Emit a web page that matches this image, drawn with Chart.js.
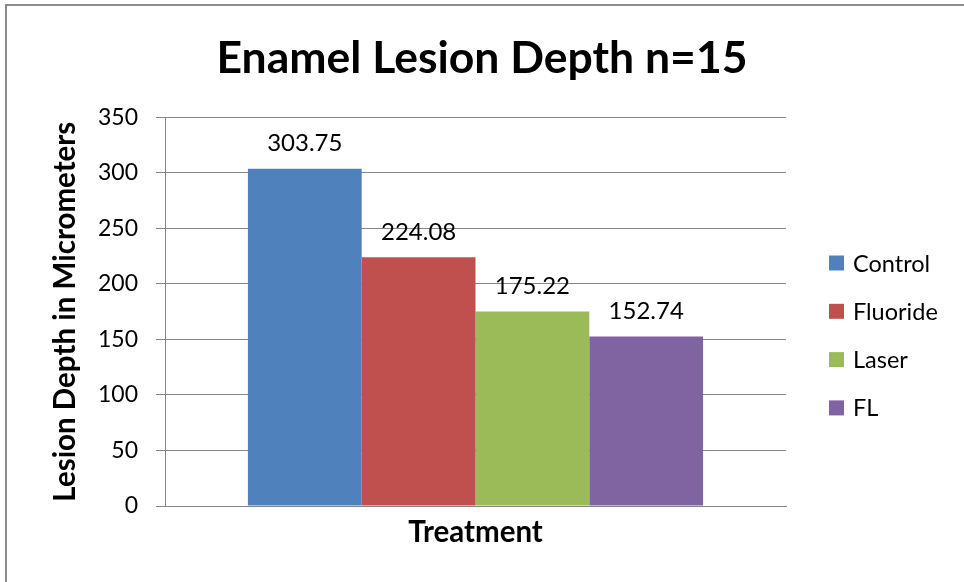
<!DOCTYPE html>
<html>
<head>
<meta charset="utf-8">
<script src="https://cdn.jsdelivr.net/npm/chart.js@4.4.1/dist/chart.umd.min.js"></script>
<style>
  html, body { margin: 0; padding: 0; background: #fff; }
  #wrap { width: 964px; height: 582px; position: relative; }
</style>
</head>
<body>
<div id="wrap"><canvas id="myChart" width="964" height="582"></canvas></div>
<script>
const categories = [''];
const seriesNames = ['Control', 'Fluoride', 'Laser', 'FL'];
const seriesValues = [303.75, 224.08, 175.22, 152.74];
const seriesColors = ['#4F81BD', '#C0504D', '#9BBB59', '#8064A2'];
const yTicks = [0, 50, 100, 150, 200, 250, 300, 350];

const FONT = 'Lato, "Open Sans", sans-serif';
const GRID = '#868686';

// frame round the chart (only top and left show in the picture)
const framePlugin = {
  id: 'frame',
  beforeDraw(chart) {
    const ctx = chart.ctx;
    ctx.save();
    ctx.fillStyle = '#fff';
    ctx.fillRect(0, 0, chart.width, chart.height);
    ctx.fillStyle = '#8c8c8c';
    ctx.fillRect(5, 4, 2, chart.height - 4);
    ctx.fillRect(5, 4, chart.width - 5, 2);
    ctx.restore();
  }
};

// value labels above the bars
const valueLabels = {
  id: 'valueLabels',
  afterDatasetsDraw(chart) {
    const ctx = chart.ctx;
    ctx.save();
    ctx.font = '24px ' + FONT;
    ctx.fillStyle = '#000';
    ctx.textAlign = 'center';
    ctx.textBaseline = 'middle';
    chart.data.datasets.forEach((ds, i) => {
      chart.getDatasetMeta(i).data.forEach((bar, j) => {
        ctx.fillText(ds.data[j].toFixed(2), bar.x, bar.y - 25);
      });
    });
    ctx.restore();
  }
};

// legend on the right, Excel style
const sideLegend = {
  id: 'sideLegend',
  afterDraw(chart) {
    const ctx = chart.ctx;
    const x = chart.chartArea.right + 43;
    let y = 263;
    ctx.save();
    ctx.font = '23.5px ' + FONT;
    ctx.textBaseline = 'middle';
    chart.data.datasets.forEach(ds => {
      ctx.fillStyle = ds.backgroundColor;
      ctx.fillRect(x, y - 7.5, 15, 15);
      ctx.fillStyle = '#000';
      ctx.fillText(ds.label, x + 24, y + 1);
      y += 48.3;
    });
    ctx.restore();
  }
};

const datasets = seriesNames.map((name, i) => ({
  label: name,
  data: [seriesValues[i]],
  backgroundColor: seriesColors[i],
  borderWidth: 0,
  categoryPercentage: 0.733,
  barPercentage: 1
}));

new Chart(document.getElementById('myChart'), {
  type: 'bar',
  data: { labels: categories, datasets: datasets },
  plugins: [framePlugin, valueLabels, sideLegend],
  options: {
    responsive: false,
    animation: false,
    layout: { padding: { top: 8, right: 0, bottom: 0, left: 0 } },
    plugins: {
      legend: { display: false },
      tooltip: { enabled: false },
      title: {
        display: true,
        text: 'Enamel Lesion Depth n=15',
        color: '#000',
        font: { family: FONT, size: 44.5, weight: 'bold' },
        padding: { top: 24, bottom: 32 }
      }
    },
    scales: {
      x: {
        grid: { display: false },
        border: { display: true, color: GRID, width: 1 },
        ticks: { display: false },
        title: {
          display: true,
          text: 'Treatment',
          color: '#000',
          font: { family: FONT, size: 29.5, weight: 'bold' },
          padding: { top: 0, bottom: 32 }
        },
        afterFit(scale) { scale.height = 76; }
      },
      y: {
        min: 0,
        max: 350,
        afterBuildTicks(scale) { scale.ticks = yTicks.map(v => ({ value: v })); },
        grid: { color: GRID, lineWidth: 1, tickLength: 9, drawTicks: true },
        border: { display: true, color: GRID, width: 1 },
        ticks: {
          color: '#000',
          padding: 18,
          font: { family: FONT, size: 23 }
        },
        title: {
          display: true,
          text: 'Lesion Depth in Micrometers',
          color: '#000',
          font: { family: FONT, size: 29.5, weight: 'bold' },
          padding: { top: 48, bottom: 0 }
        },
        afterFit(scale) { scale.width = 165; }
      },
      // empty box on the right that keeps room for the legend
      legendSpace: {
        type: 'linear',
        position: 'right',
        display: true,
        grid: { display: false, drawTicks: false },
        border: { display: false },
        ticks: { display: false },
        afterFit(scale) { scale.width = 178; }
      }
    }
  }
});
</script>
</body>
</html>
